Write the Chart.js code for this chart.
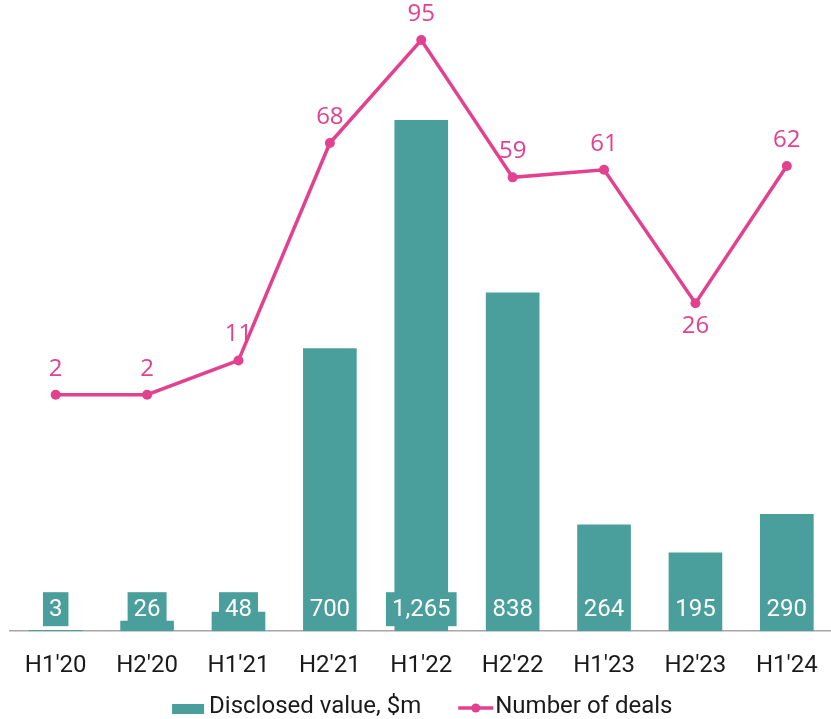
<!DOCTYPE html>
<html>
<head>
<meta charset="utf-8">
<script src="https://cdn.jsdelivr.net/npm/chart.js@4.4.1/dist/chart.umd.min.js"></script>
<style>
    html, body { margin: 0; padding: 0; background: #fff; overflow: hidden; }
    #wrap { width: 838px; height: 719px; position: relative; }
</style>
</head>
<body>
<div id="wrap"><canvas id="dealsChart"></canvas></div>
<script>
// Data
const periods = ["H1'20", "H2'20", "H1'21", "H2'21", "H1'22", "H2'22", "H1'23", "H2'23", "H1'24"];
const disclosedValue = [3, 26, 48, 700, 1265, 838, 264, 195, 290];
const dealCount = [2, 2, 11, 68, 95, 59, 61, 26, 62];

const TEAL = '#4A9F9C';
const PINK = '#E2418F';

// bar value boxes sitting on the axis
const barLabels = {
    id: 'barLabels',
    afterDatasetsDraw(chart) {
        const ctx = chart.ctx;
        const meta = chart.getDatasetMeta(1);
        const base = chart.chartArea.bottom;
        ctx.save();
        ctx.font = '24px Roboto';
        ctx.textAlign = 'center';
        ctx.textBaseline = 'middle';
        meta.data.forEach(function(bar, i) {
            const txt = disclosedValue[i].toLocaleString('en-US');
            const w = ctx.measureText(txt).width + 12;
            ctx.fillStyle = TEAL;
            ctx.fillRect(bar.x - w / 2, base - 39, w, 34);
            ctx.fillStyle = '#fff';
            ctx.fillText(txt, bar.x, base - 21);
        });
        ctx.restore();
    }
};

// deal counts above (or below) the points
const pointLabels = {
    id: 'pointLabels',
    afterDatasetsDraw(chart, args, opts) {
        const ctx = chart.ctx;
        const meta = chart.getDatasetMeta(0);
        ctx.save();
        ctx.font = '24px "Open Sans"';
        ctx.fillStyle = PINK;
        ctx.textAlign = 'center';
        ctx.textBaseline = 'middle';
        meta.data.forEach(function(pt, i) {
            const below = opts.below.includes(i);
            ctx.fillText(String(dealCount[i]), pt.x, below ? pt.y + 23 : pt.y - 26);
        });
        ctx.restore();
    }
};

// legend drawn by hand so the swatches sit close to the text
const customLegend = {
    id: 'customLegend',
    afterDraw(chart) {
        const ctx = chart.ctx;
        const items = [
            { text: 'Disclosed value, $m', kind: 'bar' },
            { text: 'Number of deals', kind: 'line' }
        ];
        ctx.save();
        ctx.font = '24px Roboto';
        ctx.textBaseline = 'middle';
        ctx.textAlign = 'left';
        const symW = 35, gap = 2, itemGap = 37;
        let total = 0;
        items.forEach(function(it, i) {
            it.w = symW + gap + ctx.measureText(it.text).width;
            total += it.w + (i ? itemGap : 0);
        });
        const area = chart.chartArea;
        let x = (area.left + area.right) / 2 - total / 2 + 1;
        const y = chart.height - 12;
        items.forEach(function(it) {
            if (it.kind === 'bar') {
                ctx.fillStyle = TEAL;
                ctx.fillRect(x, y - 3, 32, 10);
            } else {
                ctx.strokeStyle = PINK;
                ctx.lineWidth = 3.5;
                ctx.beginPath();
                ctx.moveTo(x, y + 1);
                ctx.lineTo(x + symW, y + 1);
                ctx.stroke();
                ctx.fillStyle = PINK;
                ctx.beginPath();
                ctx.arc(x + symW / 2, y + 1, 4.5, 0, Math.PI * 2);
                ctx.fill();
            }
            ctx.fillStyle = '#1a1a1a';
            ctx.fillText(it.text, x + symW + gap, y);
            x += it.w + itemGap;
        });
        ctx.restore();
    }
};

const ctx = document.getElementById('dealsChart').getContext('2d');

new Chart(ctx, {
    type: 'bar',
    data: {
        labels: periods,
        datasets: [
            {
                type: 'line',
                label: 'Number of deals',
                data: dealCount,
                yAxisID: 'y1',
                borderColor: PINK,
                backgroundColor: PINK,
                borderWidth: 3.5,
                pointRadius: 5,
                pointHoverRadius: 5,
                pointBackgroundColor: PINK,
                pointBorderWidth: 0,
                tension: 0,
                clip: false,
                order: 0
            },
            {
                label: 'Disclosed value, $m',
                data: disclosedValue,
                yAxisID: 'y',
                backgroundColor: TEAL,
                borderWidth: 0,
                categoryPercentage: 1,
                barPercentage: 0.587,
                order: 1
            }
        ]
    },
    options: {
        responsive: true,
        maintainAspectRatio: false,
        animation: false,
        layout: {
            padding: { left: 10, right: 0, top: 21, bottom: 19 }
        },
        scales: {
            x: {
                z: 1,
                grid: { display: false, drawTicks: false },
                border: { display: true, color: '#a6a6a6', width: 1.5 },
                ticks: {
                    padding: 20,
                    color: '#1a1a1a',
                    font: { family: 'Roboto', size: 24 },
                    maxRotation: 0,
                    autoSkip: false
                }
            },
            y: {
                display: false,
                min: 0,
                max: 1510
            },
            y1: {
                display: false,
                min: -60,
                max: 100
            }
        },
        plugins: {
            legend: { display: false },
            tooltip: { enabled: false },
            pointLabels: { below: [7] }
        }
    },
    plugins: [barLabels, pointLabels, customLegend]
});
</script>
</body>
</html>
